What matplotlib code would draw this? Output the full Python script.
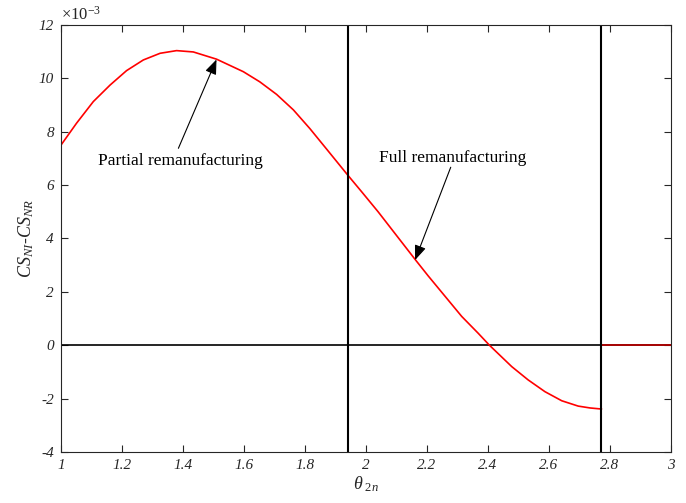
import numpy as np
import matplotlib
matplotlib.use("Agg")
import matplotlib.pyplot as plt
from matplotlib.ticker import FuncFormatter

plt.rcParams['font.family'] = ['Liberation Serif', 'DejaVu Serif']
plt.rcParams['mathtext.fontset'] = 'custom'
plt.rcParams['mathtext.rm'] = 'Liberation Serif'
plt.rcParams['mathtext.it'] = 'Liberation Serif:italic'
plt.rcParams['axes.unicode_minus'] = False

# difference CS_NI - CS_NR (x 1e-3) against theta_2n
theta = [1.000, 1.051, 1.106, 1.161, 1.215, 1.270, 1.325, 1.379, 1.434,
         1.510, 1.598, 1.652, 1.707, 1.762, 1.816, 1.871, 1.940, 1.986,
         2.040, 2.095, 2.163, 2.204, 2.259, 2.314, 2.368, 2.405, 2.478,
         2.532, 2.587, 2.642, 2.696, 2.735, 2.772]
cs_diff = [7.50, 8.32, 9.13, 9.75, 10.29, 10.69, 10.94, 11.04, 10.99,
           10.72, 10.25, 9.87, 9.40, 8.82, 8.12, 7.35, 6.38, 5.75,
           5.00, 4.19, 3.19, 2.60, 1.84, 1.08, 0.45, 0.00, -0.80,
           -1.30, -1.74, -2.08, -2.28, -2.35, -2.39]

# thresholds (vertical lines) and zero level after the second one
theta_partial = 1.940
theta_full = 2.772
x_max = 3.0

x_ticks = [1, 1.2, 1.4, 1.6, 1.8, 2, 2.2, 2.4, 2.6, 2.8, 3]
y_ticks = [-4, -2, 0, 2, 4, 6, 8, 10, 12]

fig = plt.figure(figsize=(6.86, 5.03), dpi=100)
ax = fig.add_axes([0.0889, 0.1014, 0.8891, 0.8489])

scale = 1e-3
ax.plot([1, x_max], [0, 0], color='black', lw=1.2)
ax.plot(theta, np.array(cs_diff) * scale, color='red', lw=1.2)
ax.plot([theta_full, theta_full, x_max], [cs_diff[-1] * scale, 0, 0],
        color='#c00000', lw=1.2)
ax.axvline(theta_partial, color='black', lw=1.5)
ax.axvline(theta_full, color='black', lw=1.5)

ax.set_xlim(1, 3)
ax.set_ylim(-4e-3, 12e-3)
ax.set_xticks(x_ticks)
ax.set_yticks(np.array(y_ticks) * scale)
ax.xaxis.set_major_formatter(FuncFormatter(lambda v, p: ('%g' % v)))
ax.yaxis.set_major_formatter(FuncFormatter(lambda v, p: ('%g' % round(v / scale))))
ax.tick_params(direction='in', top=True, right=True, length=5, width=0.8,
               colors='#262626', labelsize=11, pad=5)
for lab in ax.get_xticklabels() + ax.get_yticklabels():
    lab.set_fontstyle('italic')
for s in ax.spines.values():
    s.set_color('#262626')
    s.set_linewidth(0.8)

ax.text(0.0, 1.003, r'$\times\mathit{10^{-3}}$', transform=ax.transAxes,
        fontsize=12, color='#262626', va='bottom', ha='left')

ax.set_xlabel(r'$\theta_{\ 2n}$', fontsize=13, color='#262626', labelpad=2)
ax.set_ylabel(r'$CS_{NI}$-$CS_{NR}$', fontsize=13, color='#262626', labelpad=2)

arrow = dict(arrowstyle='-|>,head_length=0.9,head_width=0.35', color='black',
             lw=0.8, shrinkA=0, shrinkB=0)
ax.annotate('', xy=(1.510, 10.71e-3), xytext=(1.385, 7.38e-3), arrowprops=arrow)
ax.text(1.393, 6.90e-3, 'Partial remanufacturing', fontsize=12.5,
        ha='center', va='center')
ax.annotate('', xy=(2.161, 3.19e-3), xytext=(2.278, 6.67e-3), arrowprops=arrow)
ax.text(2.286, 7.00e-3, 'Full remanufacturing', fontsize=12.5,
        ha='center', va='center')

fig.savefig('out.png', dpi=100)
